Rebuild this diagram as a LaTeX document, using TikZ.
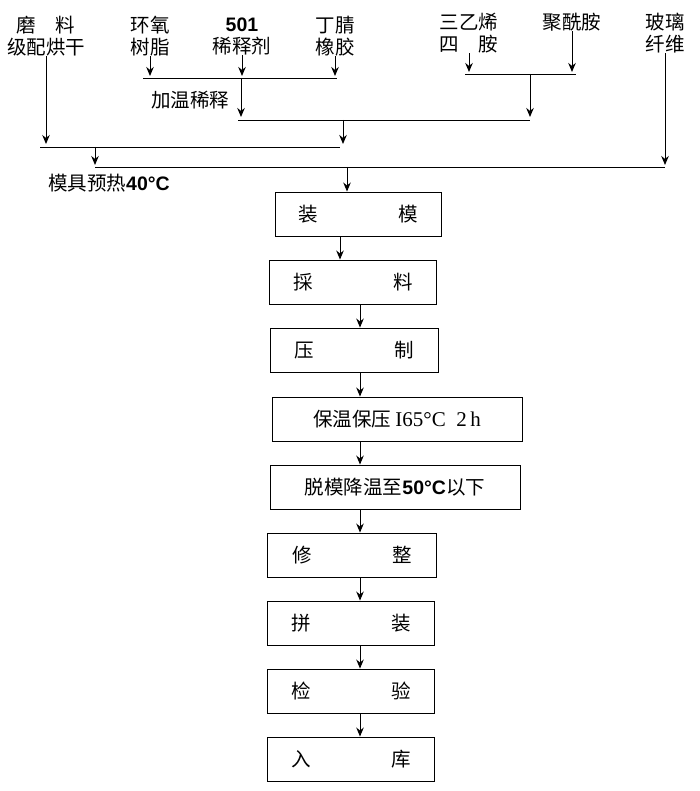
\documentclass[tikz,border=0pt]{standalone}
\usepackage{fontspec}
\setmainfont{Noto Sans CJK SC}
\newfontfamily\latn{Liberation Serif}
\newfontfamily\numf{Liberation Sans}
\usetikzlibrary{arrows.meta}
\begin{document}
\begin{tikzpicture}[x=1pt,y=-1pt,
  lbl/.style={inner sep=0pt, align=center, font=\fontsize{19.5}{22}\selectfont},
  box/.style={draw, line width=0.9pt, minimum height=44pt, inner sep=0pt, font=\fontsize{19.5}{22}\selectfont},
  ln/.style={line width=0.8pt},
  arr/.style={line width=1pt, -{Stealth[length=9pt,width=7.5pt]}}]
\useasboundingbox (0,0) rectangle (700,791);
% top labels
\node[lbl] (mo) at (46,36) {磨\hspace{1em}料\\级配烘干};
\node[lbl] (hy) at (150,36) {环氧\\树脂};
\node[lbl] (xs) at (242,36) {{\numf\bfseries 501}\\稀释剂};
\node[lbl] (dq) at (335,36) {丁腈\\橡胶};
\node[lbl] (sy) at (469,33) {三乙烯\\四\hspace{1em}胺};
\node[lbl] (jx) at (572,22) {聚酰胺};
\node[lbl] (bl) at (665,33) {玻璃\\纤维};
\node[lbl] (jw) at (190,100) {加温稀释};
\node[lbl] (mj) at (109,183) {模具预热{\numf\bfseries 40°C}};
% join coordinates
\coordinate (j1a) at (143,78); \coordinate (j1b) at (337,78); \coordinate (j1m) at (241,78);
\coordinate (j2a) at (465,74); \coordinate (j2b) at (576,74); \coordinate (j2m) at (530,74);
\coordinate (j3a) at (238,120); \coordinate (j3b) at (530,120); \coordinate (j3m) at (343,120);
\coordinate (j4a) at (40,147); \coordinate (j4b) at (340,147); \coordinate (j4m) at (95,147);
\coordinate (j5a) at (95,167); \coordinate (j5b) at (665,167); \coordinate (j5m) at (347,167);
\draw[ln] (j1a) -- (j1b);
\draw[ln] (j2a) -- (j2b);
\draw[ln] (j3a) -- (j3b);
\draw[ln] (j4a) -- (j4b);
\draw[ln] (j5a) -- (j5b);
% boxes
\node[box, minimum width=166pt] (b1) at (358,214) {装\hspace{81pt}模};
\node[box, minimum width=167pt] (b2) at (353,282) {採\hspace{81pt}料};
\node[box, minimum width=168pt] (b3) at (354,350) {压\hspace{81pt}制};
\node[box, minimum width=250pt] (b4) at (397,419) {保温保压\ {\latn\fontsize{21}{22}\selectfont I65°C\ \ 2\,h}\hspace{24pt}};
\node[box, minimum width=250pt] (b5) at (395,487) {脱模降温至{\numf\bfseries 50°C}以下};
\node[box, minimum width=169pt] (b6) at (352,555) {修\hspace{81pt}整};
\node[box, minimum width=167pt] (b7) at (351,623) {拼\hspace{81pt}装};
\node[box, minimum width=167pt] (b8) at (351,691) {检\hspace{81pt}验};
\node[box, minimum width=167pt] (b9) at (351,759) {入\hspace{81pt}库};
% arrows into joins
\draw[arr] (hy.south) -- ([yshift=2pt]hy.south |- j1a);
\draw[arr] (xs.south) -- ([yshift=2pt]xs.south |- j1a);
\draw[arr] (dq.south) -- ([yshift=2pt]dq.south |- j1a);
\draw[arr] (j1m) -- ([yshift=3pt]j1m |- j3a);
\draw[arr] (sy.south) -- ([yshift=2pt]sy.south |- j2a);
\draw[arr] (jx.south) -- ([yshift=2pt]jx.south |- j2a);
\draw[arr] (j2m) -- ([yshift=3pt]j3b);
\draw[arr] (j3m) -- ([yshift=3pt]j3m |- j4a);
\draw[arr] (mo.south) -- ([yshift=3pt]mo.south |- j4a);
\draw[arr] (j4m) -- ([yshift=2pt]j5a);
\draw[arr] (bl.south) -- ([yshift=2pt]j5b);
\draw[arr] (j5m) -- (j5m |- b1.north);
% box arrows
\coordinate (a1) at (340,0);
\coordinate (ax) at (360,0);
\draw[arr] (b1.south -| a1) -- (b2.north -| a1);
\draw[arr] (b2.south -| ax) -- (b3.north -| ax);
\draw[arr] (b3.south -| ax) -- (b4.north -| ax);
\draw[arr] (b4.south -| ax) -- (b5.north -| ax);
\draw[arr] (b5.south -| ax) -- (b6.north -| ax);
\draw[arr] (b6.south -| ax) -- (b7.north -| ax);
\draw[arr] (b7.south -| ax) -- (b8.north -| ax);
\draw[arr] (b8.south -| ax) -- (b9.north -| ax);
\end{tikzpicture}
\end{document}
